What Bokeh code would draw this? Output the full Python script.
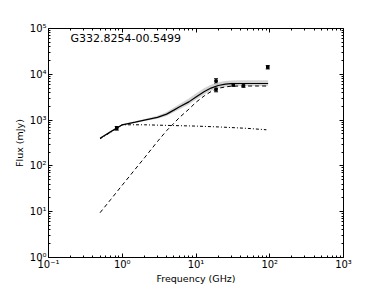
from bokeh.plotting import figure
from bokeh.models import (LogAxis, FixedTicker, ColumnDataSource, Whisker, Label, Range1d)
from bokeh.embed import file_html
from bokeh.resources import INLINE

# model curve sample frequencies (GHz)
model_freq = [0.5, 0.7, 1.0, 1.5, 2, 3, 4, 5, 6, 8, 10, 13, 16, 20, 25, 30, 40, 50, 70, 95]
total_flux = [400, 560, 790, 900, 1000, 1150, 1350, 1650, 1950, 2500, 3200, 4200, 5000, 5700, 6100, 6250, 6300, 6300, 6300, 6300]
band_upper = [410, 580, 820, 940, 1060, 1250, 1500, 1880, 2250, 2950, 3800, 5000, 5900, 6700, 7100, 7300, 7400, 7400, 7400, 7400]
band_lower = [390, 545, 765, 865, 950, 1070, 1230, 1480, 1730, 2200, 2800, 3650, 4350, 5000, 5350, 5500, 5550, 5550, 5550, 5550]
ff_freq = [0.5, 0.7, 1.0, 1.5, 2, 3, 4, 5, 6, 8, 10, 13, 16, 20, 25, 30, 40, 50, 70, 95]
ff_flux = [9.5, 18.6, 38, 85, 150, 340, 590, 850, 1150, 1730, 2450, 3400, 4200, 4950, 5300, 5500, 5550, 5550, 5550, 5550]
sync_freq = [0.5, 0.7, 1.0, 2, 5, 10, 20, 50, 90]
sync_flux = [390, 545, 790, 790, 760, 740, 710, 660, 615]

# observed points
obs_freq = [0.843, 18.7, 18.7, 32, 44, 94]
obs_flux = [665, 7100, 4700, 5900, 5700, 14300]
obs_err = [60, 900, 550, 450, 500, 1200]

x_ticks = [0.1, 1, 10, 100, 1000]
y_ticks = [1, 10, 100, 1000, 10000, 100000]
x_labels = ["10\u207b\u00b9", "10\u2070", "10\u00b9", "10\u00b2", "10\u00b3"]
y_labels = ["10\u2070", "10\u00b9", "10\u00b2", "10\u00b3", "10\u2074", "10\u2075"]

def minors(ticks):
    out = []
    for t in ticks[:-1]:
        out += [t * k for k in range(2, 10)]
    return out

p = figure(width=382, height=286, x_axis_type="log", y_axis_type="log",
           x_range=Range1d(0.1, 1000), y_range=Range1d(1, 100000),
           output_backend="svg", toolbar_location=None,
           min_border_left=48, min_border_right=39, min_border_top=28, min_border_bottom=29)
p.background_fill_color = "white"
p.border_fill_color = "white"
p.outline_line_color = "black"
p.outline_line_width = 1
p.xgrid.visible = False
p.ygrid.visible = False

font = "DejaVu Sans"

def style(ax, ticks, labels, show_labels=True):
    ax.ticker = FixedTicker(ticks=ticks, minor_ticks=minors(ticks))
    ax.major_tick_in = 4
    ax.major_tick_out = 0
    ax.minor_tick_in = 2
    ax.minor_tick_out = 0
    ax.axis_line_color = None
    ax.major_label_text_font = font
    ax.major_label_text_font_size = "10px"
    ax.major_label_text_color = "black"
    ax.axis_label_text_font = font
    ax.axis_label_text_font_size = "9.5px"
    ax.axis_label_text_font_style = "normal"
    ax.axis_label_text_color = "black"
    ax.major_label_standoff = 1
    ax.axis_label_standoff = 0
    if show_labels:
        ax.major_label_overrides = {t: l for t, l in zip(ticks, labels)}
    else:
        ax.major_label_text_alpha = 0
        ax.major_label_standoff = 0

style(p.xaxis[0], x_ticks, x_labels)
style(p.yaxis[0], y_ticks, y_labels)
p.yaxis[0].major_label_standoff = 2
p.yaxis[0].axis_label_standoff = 2
p.xaxis[0].axis_label = "Frequency (GHz)"
p.yaxis[0].axis_label = "Flux (mJy)"

top = LogAxis()
right = LogAxis()
style(top, x_ticks, x_labels, False)
style(right, y_ticks, y_labels, False)
p.add_layout(top, "above")
p.add_layout(right, "right")

band_src = ColumnDataSource(dict(x=model_freq, lo=band_lower, hi=band_upper))
p.varea(x="x", y1="lo", y2="hi", source=band_src, fill_color="#c8c8c8", fill_alpha=0.8)

p.line(sync_freq, sync_flux, line_color="black", line_width=1, line_dash="3 2 1 2")
p.line(ff_freq, ff_flux, line_color="black", line_width=1, line_dash="4 3")
p.line(model_freq, total_flux, line_color="black", line_width=1.2)

src = ColumnDataSource(dict(x=obs_freq, y=obs_flux,
                            lo=[f - e for f, e in zip(obs_flux, obs_err)],
                            hi=[f + e for f, e in zip(obs_flux, obs_err)]))
w = Whisker(base="x", lower="lo", upper="hi", source=src, dimension="height",
            line_color="black", line_width=1)
w.upper_head.size = 4
w.lower_head.size = 4
w.upper_head.line_color = "black"
w.lower_head.line_color = "black"
p.add_layout(w)
p.scatter("x", "y", source=src, marker="square", size=2.5, fill_color="black", line_color="black")

p.add_layout(Label(x=22, y=219, x_units="screen", y_units="screen", text="G332.8254-00.5499",
                   text_font=font, text_font_size="11px", text_color="black",
                   text_baseline="middle"))

open("out.html", "w").write(file_html(p, INLINE))
